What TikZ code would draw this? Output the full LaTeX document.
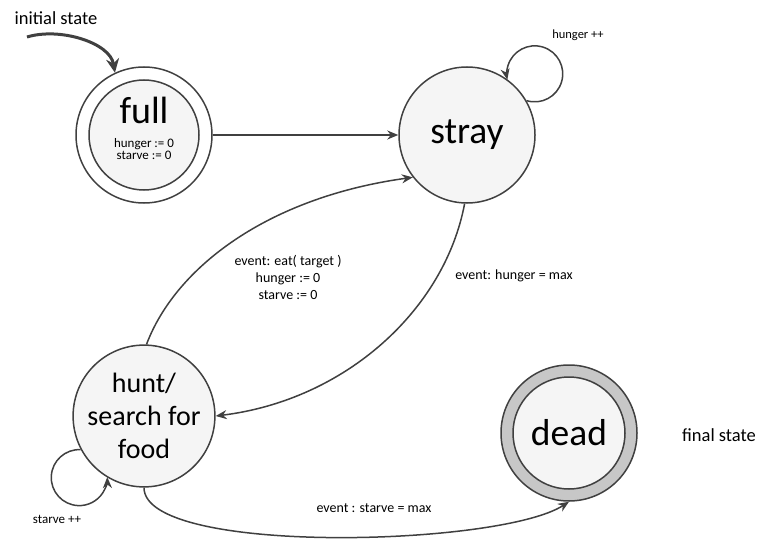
\documentclass[tikz,border=0pt]{standalone}
\usepackage{fontspec}
\setmainfont{Carlito}
\usetikzlibrary{positioning,arrows.meta}

\tikzset{
	state/.style = {circle, draw=black!75, line width=1.5pt, fill=black!4,
		minimum size=136pt, inner sep=0pt, align=center},
	ring/.style = {state, fill=#1},
	trans/.style = {draw=black!75, line width=1.5pt, ->},
	lbl/.style = {align=center, font=\fontsize{14}{17}\selectfont}
}

\begin{document}
\begin{tikzpicture}[x=1pt, y=1pt, >={Stealth[length=11pt,width=9pt]}]
	\useasboundingbox (0,0) rectangle (759,539);
	% states
	\node[ring=white] (fullring) at (144,404) {};
	\node[state, minimum size=110pt] (full) at (144,404) {};
	\node[font=\fontsize{38}{38}\selectfont, anchor=base, inner sep=0pt] (fulltxt) at (144,415) {full};
	\node[font=\fontsize{13}{12.5}\selectfont, align=center, inner sep=0pt] (fullvars) at (144,390) {hunger := 0\\starve := 0};
	\node[state, font=\fontsize{37.5}{40}\selectfont] (stray) at (467,404) {stray};
	\node[state, font=\fontsize{28}{33}\selectfont] (hunt) at (144,123) {hunt/\\search for\\food};
	\node[ring=black!22] (deadring) at (569,106) {};
	\node[state, minimum size=112pt, font=\fontsize{37.5}{40}\selectfont] (dead) at (569,106) {dead};

	% transitions
	\coordinate (init) at (27,502);
	\draw[trans, line width=3pt, >={Stealth[length=14pt,width=13pt]}]
		(init) .. controls +(33,10) and +(-5,30) .. (fullring.115);
	\draw[trans] (fullring) -- (stray);
	\draw[trans] (stray.30) arc[start angle=253, end angle=552, radius=28];
	\draw[trans] (hunt.88) .. controls +(29,77) and +(-145,-20) .. (stray.218);
	\draw[trans] (stray.268) .. controls +(-20,-106) and +(130,16) .. (hunt.east);
	\draw[trans] (hunt.208) arc[start angle=87, end angle=361, radius=28];
	\draw[trans] (hunt.south) .. controls +(0,-68) and +(-70,-45) .. (deadring.south);

	% labels
	\node[lbl, font=\fontsize{18.5}{20}\selectfont] (initlbl) at (56,521) {initial state};
	\node[lbl, font=\fontsize{18.5}{20}\selectfont] (finallbl) at (719,104) {final state};
	\node[lbl, font=\fontsize{12.5}{14}\selectfont] (hungerlbl) at (578,504) {hunger ++};
	\node[lbl, font=\fontsize{13}{14}\selectfont] (starvelbl) at (57,20) {starve ++};
	\node[lbl] (eatlbl) at (288,262) {event: eat( target )\\hunger := 0\\starve := 0};
	\node[lbl] (maxlbl) at (514,263) {event: hunger = max};
	\node[lbl] (starvemaxlbl) at (374,31) {event : starve = max};
\end{tikzpicture}
\end{document}
